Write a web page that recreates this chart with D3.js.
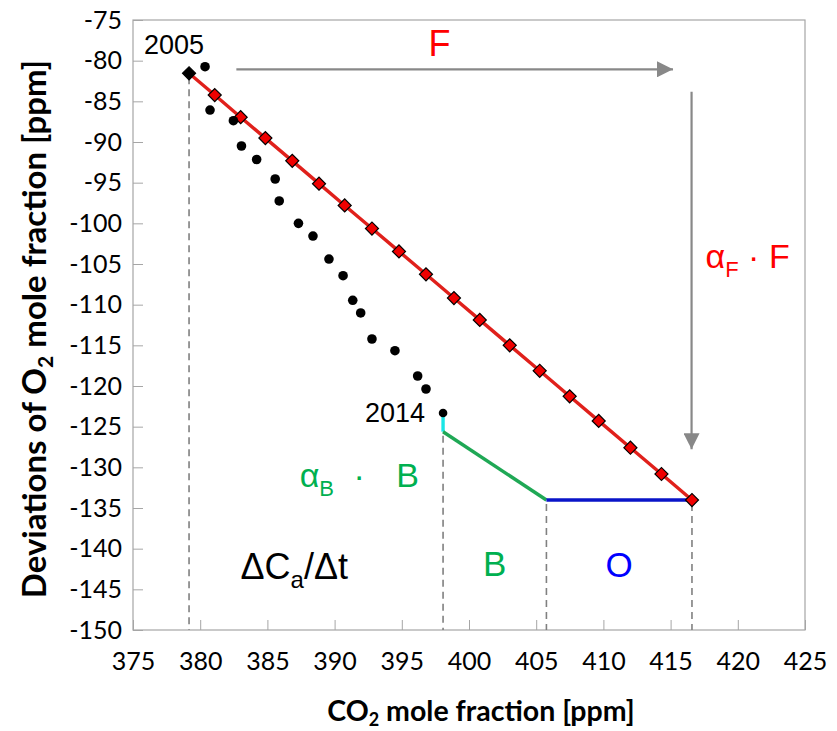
<!DOCTYPE html>
<html>
<head>
<meta charset="utf-8">
<script src="https://cdn.jsdelivr.net/npm/d3@7"></script>
<style>
  body { margin: 0; background: #fff; }
  svg { display: block; }
</style>
</head>
<body>
<div id="viz"></div>
<script>
// set the dimensions and margins of the graph
var margin = {top: 20, right: 32, bottom: 101, left: 133},
    width = 837 - margin.left - margin.right,
    height = 731 - margin.top - margin.bottom;

// fossil fuel line (semi-annual points 2005 - 2014)
var fossilCO2 = [379.17, 381.08, 383.01, 384.85, 386.85, 388.84, 390.75, 392.78, 394.79, 396.80,
                 398.88, 400.80, 403.03, 405.26, 407.49, 409.65, 412.01, 414.32, 416.59];
var fossilO2 = [-81.55, -84.23, -86.95, -89.52, -92.32, -95.12, -97.80, -100.64, -103.45, -106.27,
                -109.19, -111.87, -115.00, -118.13, -121.27, -124.29, -127.59, -130.82, -134.02];

// observed values
var obsCO2 = [380.36, 380.73, 382.47, 383.07, 384.20, 385.58, 385.88, 387.31, 388.39, 389.58,
              390.63, 391.35, 391.94, 392.78, 394.49, 396.18, 396.80, 398.07];
var obsO2 = [-80.74, -86.07, -87.38, -90.49, -92.15, -94.55, -97.25, -100.00, -101.56, -104.39,
             -106.44, -109.46, -111.02, -114.22, -115.66, -118.77, -120.37, -123.32];

// budget path: end of obs -> land sink -> ocean sink -> end of fossil line
var budgetCO2 = [398.07, 398.07, 405.76, 416.59];
var budgetO2 = [-123.32, -125.62, -134.02, -134.02];

var xTicks = [375, 380, 385, 390, 395, 400, 405, 410, 415, 420, 425];
var yTicks = [-75, -80, -85, -90, -95, -100, -105, -110, -115, -120, -125, -130, -135, -140, -145, -150];

var svg = d3.select("#viz")
  .append("svg")
  .attr("width", width + margin.left + margin.right)
  .attr("height", height + margin.top + margin.bottom)
  .append("g")
  .attr("transform", "translate(" + margin.left + "," + margin.top + ")");

var x = d3.scaleLinear().domain([375, 425]).range([0, width]);
var y = d3.scaleLinear().domain([-150, -75]).range([height, 0]);

var gray = "#a6a6a6";
var axisFont = "Lato, 'Open Sans', sans-serif";
var annFont = "'Liberation Sans', Arial, sans-serif";

// X axis
var xAxis = svg.append("g")
  .attr("transform", "translate(0," + height + ")")
  .call(d3.axisBottom(x).tickValues(xTicks).tickSize(-10).tickPadding(22).tickFormat(function(d) { return String(d); }));
xAxis.select(".domain").remove();
xAxis.selectAll("line").attr("stroke", gray);
xAxis.selectAll("text").style("font", "25px " + axisFont).attr("fill", "#000");

// Y axis
var yAxis = svg.append("g")
  .call(d3.axisLeft(y).tickValues(yTicks).tickSize(-10).tickPadding(11).tickFormat(function(d) { return String(d); }));
yAxis.select(".domain").remove();
yAxis.selectAll("line").attr("stroke", gray);
yAxis.selectAll("text").style("font", "25px " + axisFont).attr("fill", "#000");

// frame
svg.append("rect")
  .attr("width", width).attr("height", height)
  .attr("fill", "none").attr("stroke", gray).attr("stroke-width", 1.2);

// axis titles
var xt = svg.append("text")
  .attr("x", 348).attr("y", height + 91)
  .attr("text-anchor", "middle")
  .style("font", "bold 28.5px " + axisFont);
xt.append("tspan").text("CO");
xt.append("tspan").text("2").attr("dy", 5).style("font-size", "18px");
xt.append("tspan").text(" mole fraction [ppm]").attr("dy", -5);

var yt = svg.append("text")
  .attr("transform", "translate(" + (-87) + "," + 309 + ") rotate(-90)")
  .attr("text-anchor", "middle")
  .style("font", "bold 33px " + axisFont);
yt.append("tspan").text("Deviations of O");
yt.append("tspan").text("2").attr("dy", 7).style("font-size", "21px");
yt.append("tspan").text(" mole fraction [ppm]").attr("dy", -7);

// dashed drop lines
var drops = [
  {cx: fossilCO2[0], top: fossilO2[0]},
  {cx: budgetCO2[1], top: budgetO2[1]},
  {cx: budgetCO2[2], top: budgetO2[2]},
  {cx: budgetCO2[3], top: budgetO2[3]}
];
svg.selectAll(".drop").data(drops).enter().append("line")
  .attr("class", "drop")
  .attr("x1", function(d) { return x(d.cx); })
  .attr("x2", function(d) { return x(d.cx); })
  .attr("y1", function(d) { return y(d.top) + 4; })
  .attr("y2", height)
  .attr("stroke", "#808080").attr("stroke-width", 1.6)
  .attr("stroke-dasharray", "7,5");

// arrows
var defs = svg.append("defs");
defs.append("marker")
  .attr("id", "arr").attr("viewBox", "0 0 10 10")
  .attr("refX", 10).attr("refY", 5)
  .attr("markerUnits", "userSpaceOnUse")
  .attr("markerWidth", 16).attr("markerHeight", 16)
  .attr("orient", "auto")
  .append("path").attr("d", "M0,0L10,5L0,10Z").attr("fill", "#888");

svg.append("line")
  .attr("x1", x(382.69)).attr("x2", x(415.18))
  .attr("y1", y(-81.06)).attr("y2", y(-81.06))
  .attr("stroke", "#888").attr("stroke-width", 2.2)
  .attr("marker-end", "url(#arr)");
svg.append("line")
  .attr("x1", x(416.56)).attr("x2", x(416.56))
  .attr("y1", y(-83.82)).attr("y2", y(-127.78))
  .attr("stroke", "#888").attr("stroke-width", 2.2)
  .attr("marker-end", "url(#arr)");

// budget segments
var segColors = ["#19e6e6", "#1fa855", "#0a14c8"];
for (var i = 0; i < 3; i++) {
  svg.append("line")
    .attr("x1", x(budgetCO2[i])).attr("y1", y(budgetO2[i]))
    .attr("x2", x(budgetCO2[i + 1])).attr("y2", y(budgetO2[i + 1]))
    .attr("stroke", segColors[i]).attr("stroke-width", 3.4);
}

// fossil fuel line
var fossil = fossilCO2.map(function(c, i) { return {c: c, o: fossilO2[i]}; });
svg.append("path").datum(fossil)
  .attr("fill", "none").attr("stroke", "#e0201b").attr("stroke-width", 3.4)
  .attr("d", d3.line().x(function(d) { return x(d.c); }).y(function(d) { return y(d.o); }));

svg.selectAll(".dia").data(fossil).enter().append("path")
  .attr("class", "dia")
  .attr("transform", function(d) { return "translate(" + x(d.c) + "," + y(d.o) + ") rotate(45)"; })
  .attr("d", d3.symbol().type(d3.symbolSquare).size(85))
  .attr("fill", function(d, i) { return i === 0 ? "#000" : "#f00000"; })
  .attr("stroke", "#000").attr("stroke-width", 1.2);

// observations
var obs = obsCO2.map(function(c, i) { return {c: c, o: obsO2[i]}; });
svg.selectAll(".obs").data(obs).enter().append("circle")
  .attr("class", "obs")
  .attr("cx", function(d) { return x(d.c); })
  .attr("cy", function(d) { return y(d.o); })
  .attr("r", function(d, i) { return i === obs.length - 1 ? 4.3 : 4.8; })
  .attr("fill", "#000");

// labels
function label(tx, ty, txt, color, size, anchor) {
  return svg.append("text")
    .attr("x", tx).attr("y", ty)
    .attr("text-anchor", anchor || "start")
    .attr("fill", color)
    .style("font", size + "px " + annFont)
    .text(txt);
}
label(x(fossilCO2[0]) - 45, y(fossilO2[0]) - 19, "2005", "#000", 27);
label(x(obsCO2[obsCO2.length - 1]) - 18, y(obsO2[obsO2.length - 1]) + 9, "2014", "#000", 27, "end");
label(x(397.8), 56 - margin.top, "F", "#ff0000", 36, "middle");

var af = svg.append("text").attr("x", x(416.56) + 14).attr("y", 268 - margin.top)
  .attr("fill", "#ff0000").style("font", "34px " + annFont);
af.append("tspan").text("α");
af.append("tspan").text("F").attr("dy", 9).style("font-size", "22px");
af.append("tspan").text(" · F").attr("dy", -9);

var ab = svg.append("text").attr("x", x(387.4)).attr("y", 487 - margin.top)
  .attr("fill", "#00b050").style("font", "34px " + annFont);
ab.append("tspan").text("α");
ab.append("tspan").text("B").attr("dy", 9).style("font-size", "22px");
ab.append("tspan").text(" ·").attr("dy", -9).attr("dx", 10);
ab.append("tspan").text(" B").attr("dx", 22);

var dc = svg.append("text").attr("x", x(383)).attr("y", 579 - margin.top)
  .attr("fill", "#000").style("font", "36px " + annFont);
dc.append("tspan").text("ΔC");
dc.append("tspan").text("a").attr("dy", 9).style("font-size", "24px");
dc.append("tspan").text("/Δt").attr("dy", -9);

label(x((budgetCO2[1] + budgetCO2[2]) / 2), 576 - margin.top, "B", "#00b050", 35, "middle");
label(x((budgetCO2[2] + budgetCO2[3]) / 2), 577 - margin.top, "O", "#0000ff", 35, "middle");
</script>
</body>
</html>
